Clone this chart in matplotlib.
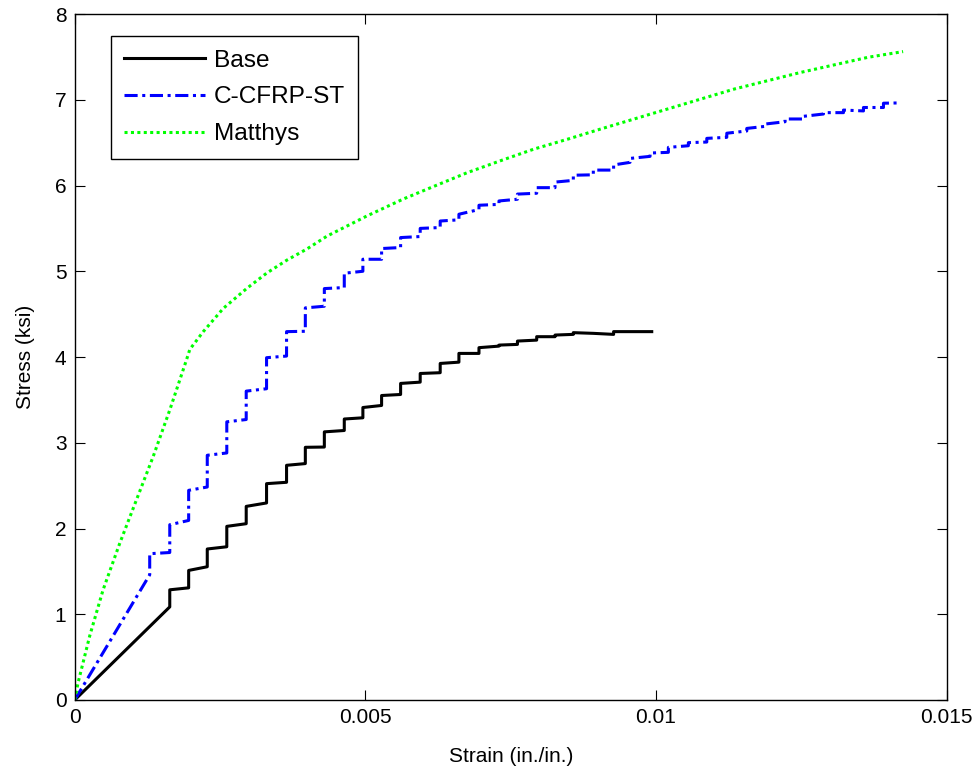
import numpy as np
import matplotlib.pyplot as plt

plt.rcParams['font.family'] = ['Liberation Sans', 'DejaVu Sans']

# strain positions where the stepped curves jump (in./in.)
step_strain = [0.001635, 0.00196, 0.00228, 0.002616, 0.00295, 0.0033, 0.003644,
               0.003967, 0.004294, 0.004637, 0.004957, 0.005279, 0.005606, 0.005943,
               0.006287, 0.006609, 0.006954, 0.007298, 0.007616, 0.007947, 0.008262,
               0.008577, 0.008921, 0.00927]

# Base: stress before / after each jump (ksi)
base_before = [1.086, 1.308, 1.554, 1.787, 2.056, 2.298, 2.539, 2.757, 2.95, 3.143,
               3.291, 3.435, 3.563, 3.707, 3.817, 3.94, 4.042, 4.127, 4.147, 4.197,
               4.237, 4.264, 4.276, 4.264]
base_after = [1.285, 1.511, 1.761, 2.025, 2.258, 2.523, 2.737, 2.947, 3.127, 3.277,
              3.411, 3.551, 3.692, 3.808, 3.925, 4.042, 4.109, 4.139, 4.186, 4.237,
              4.256, 4.284, 4.276, 4.296]
base_end = (0.009926, 4.296)

# C-CFRP-ST: its own jump positions and stresses
cfrp_strain = [0.00129, 0.001635, 0.00196, 0.00228, 0.002616, 0.00295, 0.0033,
               0.003644, 0.003967, 0.004294, 0.004637, 0.004957, 0.005279, 0.005606,
               0.005943, 0.006287, 0.006609, 0.006954, 0.007298, 0.007616, 0.007947,
               0.008262, 0.008577, 0.008921, 0.00927, 0.009552, 0.009897, 0.010212,
               0.010556, 0.010873, 0.011217, 0.011561, 0.011876, 0.01222, 0.012535,
               0.01288, 0.013224, 0.013568, 0.013912]
cfrp_before = [1.46, 1.72, 2.094, 2.484, 2.881, 3.271, 3.63, 4.011, 4.30, 4.592,
               4.81, 5.0, 5.14, 5.277, 5.405, 5.51, 5.60, 5.72, 5.78, 5.84,
               5.91, 5.975, 6.06, 6.125, 6.18, 6.27, 6.34, 6.387, 6.464, 6.507,
               6.562, 6.636, 6.69, 6.744, 6.776, 6.834, 6.85, 6.87, 6.91]
cfrp_after = [1.706, 2.044, 2.445, 2.854, 3.244, 3.602, 3.992, 4.296, 4.573, 4.798,
              4.977, 5.14, 5.265, 5.393, 5.50, 5.586, 5.665, 5.77, 5.82, 5.90,
              5.975, 6.04, 6.12, 6.18, 6.24, 6.316, 6.379, 6.445, 6.50, 6.55,
              6.61, 6.666, 6.717, 6.776, 6.807, 6.85, 6.88, 6.91, 6.96]
cfrp_end = (0.01417, 6.963)

# Matthys model (smooth)
matthys_strain = [0, 0.000057, 0.000259, 0.000488, 0.000776, 0.001063, 0.00135,
                  0.001638, 0.001925, 0.00198, 0.00221, 0.002557, 0.00296, 0.003305,
                  0.00365, 0.003995, 0.00434, 0.005029, 0.00566, 0.006177, 0.006752,
                  0.007328, 0.0079, 0.008477, 0.009052, 0.010201, 0.01135, 0.0125,
                  0.01365, 0.01425]
matthys_stress = [0, 0.2, 0.75, 1.285, 1.83, 2.336, 2.84, 3.388, 3.972, 4.089,
                  4.295, 4.568, 4.80, 4.98, 5.13, 5.26, 5.41, 5.646, 5.845, 5.99,
                  6.15, 6.29, 6.425, 6.54, 6.66, 6.893, 7.126, 7.321, 7.496, 7.562]


def stepped(xs, before, after, end):
    x, y = [0.0], [0.0]
    for s, b, a in zip(xs, before, after):
        x += [s, s]
        y += [b, a]
    x.append(end[0])
    y.append(end[1])
    return x, y


bx, by = stepped(step_strain, base_before, base_after, base_end)
cx, cy = stepped(cfrp_strain, cfrp_before, cfrp_after, cfrp_end)

fig = plt.figure(figsize=(9.78, 7.71), dpi=100)
ax = fig.add_axes([0.0764, 0.0921, 0.8916, 0.8897])

ax.plot(bx, by, color='black', lw=2.2, label='Base')
ax.plot(cx, cy, color='blue', lw=2.2, dashes=(4.3, 1.5, 1, 1.5), label='C-CFRP-ST')
ax.plot(matthys_strain, matthys_stress, color='#00ff00', lw=2.2, dashes=(1, 1.1),
        label='Matthys')

ax.set_xlim(0, 0.015)
ax.set_ylim(0, 8)
ax.set_xticks([0, 0.005, 0.01, 0.015])
ax.set_xticklabels(['0', '0.005', '0.01', '0.015'])
ax.set_yticks(range(9))
ax.tick_params(direction='in', length=7, width=0.8, top=True, right=True,
               labelsize=15, pad=6)
for sp in ax.spines.values():
    sp.set_linewidth(1.0)

ax.set_xlabel('Strain (in./in.)', fontsize=15, labelpad=14)
ax.set_ylabel('Stress (ksi)', fontsize=15, labelpad=14)

leg = ax.legend(loc='upper left', bbox_to_anchor=(0.0413, 0.968), borderaxespad=0,
                fancybox=False, edgecolor='black', framealpha=1, fontsize=17.6,
                handlelength=3.3, handletextpad=0.37, labelspacing=0.6,
                borderpad=0.55)
leg.get_frame().set_linewidth(1.0)

plt.savefig('out.png', dpi=100)
